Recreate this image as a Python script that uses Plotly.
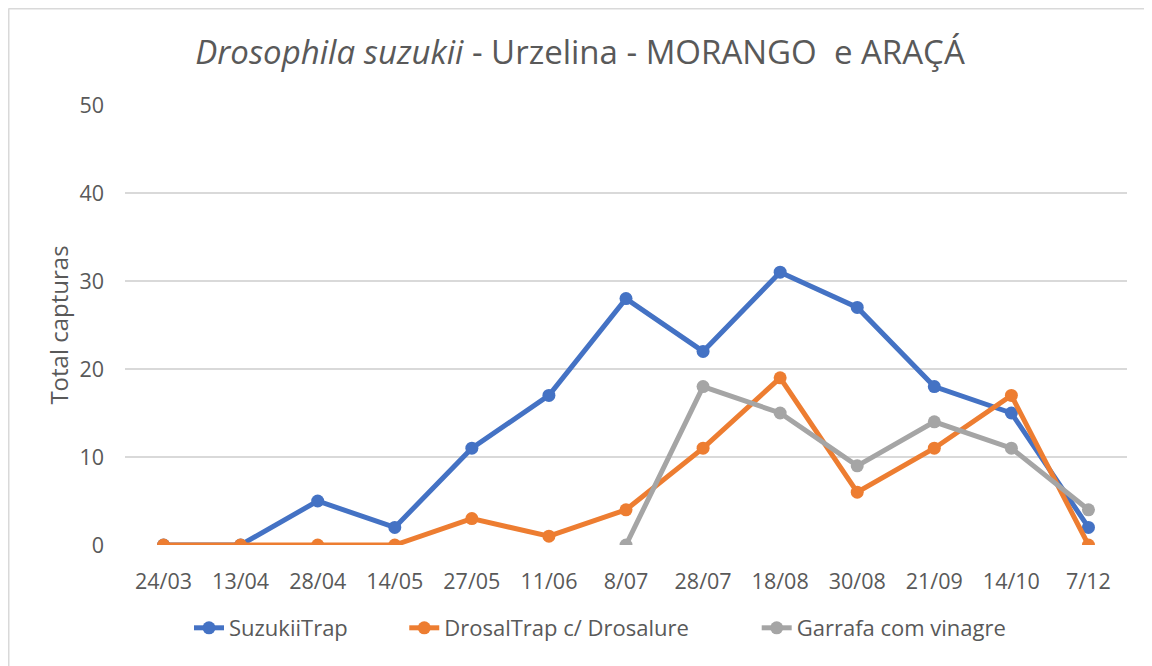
import plotly.graph_objects as go

categories = ["24/03", "13/04", "28/04", "14/05", "27/05", "11/06", "8/07",
              "28/07", "18/08", "30/08", "21/09", "14/10", "7/12"]
suzukii = [0, 0, 5, 2, 11, 17, 28, 22, 31, 27, 18, 15, 2]
drosal = [0, 0, 0, 0, 3, 1, 4, 11, 19, 6, 11, 17, 0]
garrafa = [None, None, None, None, None, None, 0, 18, 15, 9, 14, 11, 4]

series_names = ["SuzukiiTrap", "DrosalTrap c/ Drosalure", "Garrafa com vinagre"]
series_colors = ["#4472C4", "#ED7D31", "#A5A5A5"]
series_values = [suzukii, drosal, garrafa]
legend_pad = [9, 11, 0]  # trailing spaces to widen legend spacing

FONT = "Open Sans"
TXT = "#595959"

fig = go.Figure()
for name, vals, col, pad in zip(series_names, series_values, series_colors, legend_pad):
    fig.add_trace(go.Scatter(
        x=categories, y=vals, name=name + "\u00a0" * pad, mode="lines+markers",
        line=dict(color=col, width=5), marker=dict(color=col, size=13),
        connectgaps=False,
    ))

# page has an 8px body margin; figure is sized to fit the window
W, H = 1144, 658
L, R, T, B = 117, 25, 97, 121
pw, ph = W - L - R, H - T - B

fig.update_layout(
    width=W, height=H,
    margin=dict(l=L, r=R, t=T, b=B),
    paper_bgcolor="white", plot_bgcolor="white",
    font=dict(family=FONT, color=TXT),
    title=dict(text="<i>Drosophila suzukii</i> - Urzelina - MORANGO  e ARAÇÁ",
               x=(580 - 8) / W, xanchor="center", y=1 - 44 / H, yanchor="middle",
               font=dict(size=33, color=TXT, family=FONT)),
    xaxis=dict(type="category", showgrid=False, showline=False, zeroline=False,
               tickfont=dict(size=21.5, color=TXT), ticklabelstandoff=21,
               range=[-0.5, len(categories) - 0.5]),
    yaxis=dict(range=[0, 50], dtick=10, showgrid=True, gridcolor="#D9D9D9",
               gridwidth=1.5, zeroline=False, showline=False,
               tickfont=dict(size=21.5, color=TXT), ticklabelstandoff=20,
               title=dict(text="Total capturas", font=dict(size=24, color=TXT),
                          standoff=4)),
    legend=dict(orientation="h", x=(600 - 8 - L) / pw, xanchor="center",
                y=-(620 - (T + ph)) / ph, yanchor="middle",
                font=dict(size=22, color=TXT)),
    showlegend=True,
)

# chart border (top and left edges visible)
x_left = (0.5 - L) / pw
y_top = 1 + (T - 0.5) / ph
y_bot = -(B + 2) / ph
fig.add_shape(type="line", xref="paper", yref="paper", x0=x_left, x1=1 + (R + 2) / pw,
              y0=y_top, y1=y_top, line=dict(color="#D9D9D9", width=2))
fig.add_shape(type="line", xref="paper", yref="paper", x0=x_left, x1=x_left,
              y0=y_bot, y1=y_top, line=dict(color="#D9D9D9", width=2))

fig.write_html("out.html")
